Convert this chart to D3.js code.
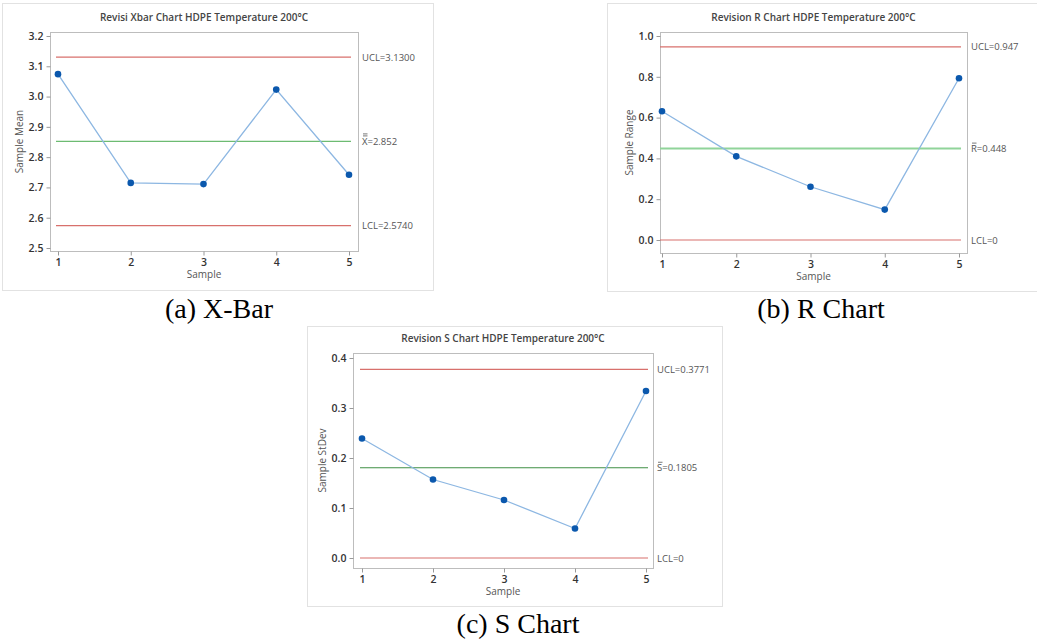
<!DOCTYPE html>
<html>
<head>
<meta charset="utf-8">
<script src="https://cdn.jsdelivr.net/npm/d3@7"></script>
<style>
  body { margin: 0; background: #fff; }
  svg { display: block; }
  .tick text { font-family: 'Open Sans', sans-serif; font-size: 10.5px; font-weight: 600; fill: #333; }
  .tick line { stroke: #999; }
  .domain { display: none; }
</style>
</head>
<body>
<svg id="chart"></svg>
<script>
// Samples (shared x axis)
let samples = [1, 2, 3, 4, 5];

// Xbar chart
let xbarValues = [3.074, 2.715, 2.711, 3.023, 2.742];
let xbarLimits = { ucl: 3.13, cl: 2.852, lcl: 2.574 };
let xbarTicks = [2.5, 2.6, 2.7, 2.8, 2.9, 3.0, 3.1, 3.2];

// R chart
let rValues = [0.631, 0.41, 0.261, 0.149, 0.793];
let rLimits = { ucl: 0.947, cl: 0.448, lcl: 0 };
let rTicks = [0, 0.2, 0.4, 0.6, 0.8, 1.0];

// S chart
let sValues = [0.239, 0.157, 0.116, 0.059, 0.334];
let sLimits = { ucl: 0.3771, cl: 0.1805, lcl: 0 };
let sTicks = [0, 0.1, 0.2, 0.3, 0.4];

let svgWidth = 1037;
let svgHeight = 639;

let svg = d3.select('#chart')
  .attr('width', svgWidth)
  .attr('height', svgHeight);

let red = '#d8706c';
let blueLine = '#8db7e2';
let blueDot = '#0b58ad';
let grey = '#555';

/**
 * Draw one control chart panel
 */
function drawPanel(p) {
  let g = svg.append('g');

  // outer frame of the screenshot
  g.append('rect')
    .attr('x', p.box[0] + 0.5).attr('y', p.box[1] + 0.5)
    .attr('width', p.box[2] - p.box[0]).attr('height', p.box[3] - p.box[1])
    .attr('fill', '#fff').attr('stroke', '#e2e2e2');

  // plot frame
  g.append('rect')
    .attr('x', p.frame[0] + 0.5).attr('y', p.frame[1] + 0.5)
    .attr('width', p.frame[2] - p.frame[0]).attr('height', p.frame[3] - p.frame[1])
    .attr('fill', 'none').attr('stroke', '#bdbdbd');

  let xScale = d3.scaleLinear().domain([1, 5]).range(p.xRange);
  let yScale = d3.scaleLinear().domain(d3.extent(p.ticks)).range(p.yRange);

  let xAxis = d3.axisBottom(xScale).tickValues(samples).tickFormat(d3.format('d')).tickSize(4);
  let yAxis = d3.axisLeft(yScale).tickValues(p.ticks).tickFormat(d3.format('.1f')).tickSize(4);

  g.append('g')
    .attr('transform', 'translate(0,' + (p.frame[3] + 0.5) + ')')
    .call(xAxis);

  g.append('g')
    .attr('transform', 'translate(' + (p.frame[0] + 0.5) + ',0)')
    .call(yAxis);

  // title
  g.append('text')
    .attr('x', (p.frame[0] + p.frame[2]) / 2)
    .attr('y', p.frame[1] - 11)
    .attr('text-anchor', 'middle')
    .attr('font-family', 'Open Sans, sans-serif')
    .attr('font-size', '10px')
    .attr('font-weight', 600)
    .attr('fill', '#444')
    .text(p.title);

  // axis labels
  g.append('text')
    .attr('x', (p.frame[0] + p.frame[2]) / 2)
    .attr('y', p.frame[3] + 27)
    .attr('text-anchor', 'middle')
    .attr('font-family', 'Open Sans, sans-serif')
    .attr('font-size', '10px')
    .attr('fill', grey)
    .text('Sample');

  g.append('text')
    .attr('transform', 'translate(' + (p.frame[0] - 27) + ',' + ((p.frame[1] + p.frame[3]) / 2) + ') rotate(-90)')
    .attr('text-anchor', 'middle')
    .attr('font-family', 'Open Sans, sans-serif')
    .attr('font-size', '10px')
    .attr('fill', grey)
    .text(p.yLabel);

  // control limits
  let x0 = xScale(1) - 2;
  let x1 = xScale(5) + 2;
  let limits = [
    { v: p.limits.ucl, color: red, w: 1.2, label: 'UCL=' + p.fmt(p.limits.ucl) },
    { v: p.limits.cl, color: p.clColor, w: p.clWidth, label: p.clSym + '=' + p.clFmt(p.limits.cl), bars: p.clBars },
    { v: p.limits.lcl, color: red, w: 1.2, label: 'LCL=' + p.lclFmt(p.limits.lcl) }
  ];

  limits.forEach(l => {
    let y = yScale(l.v);
    g.append('line')
      .attr('x1', x0).attr('x2', x1)
      .attr('y1', y).attr('y2', y)
      .attr('stroke', l.color).attr('stroke-width', l.w);

    g.append('text')
      .attr('x', p.frame[2] + 4)
      .attr('y', y + 3.5)
      .attr('font-family', 'Open Sans, sans-serif')
      .attr('font-size', '9.5px')
      .attr('fill', grey)
      .text(l.label);

    // overline(s) above the centre line symbol
    if (l.bars) {
      for (let k = 0; k < l.bars; k++) {
        g.append('line')
          .attr('x1', p.frame[2] + 5).attr('x2', p.frame[2] + 9.5)
          .attr('y1', y - 5.5 - k * 2).attr('y2', y - 5.5 - k * 2)
          .attr('stroke', grey).attr('stroke-width', 0.8);
      }
    }
  });

  // data line and points
  let line = d3.line()
    .x((d, i) => xScale(samples[i]))
    .y(d => yScale(d));

  g.append('path')
    .datum(p.values)
    .attr('d', line)
    .attr('fill', 'none')
    .attr('stroke', blueLine)
    .attr('stroke-width', 1.3);

  g.selectAll('circle')
    .data(p.values)
    .enter()
    .append('circle')
    .attr('cx', (d, i) => xScale(samples[i]))
    .attr('cy', d => yScale(d))
    .attr('r', 3.3)
    .attr('fill', blueDot);

  // caption
  svg.append('text')
    .attr('x', p.caption[0])
    .attr('y', p.caption[1])
    .attr('text-anchor', 'middle')
    .attr('font-family', 'Liberation Serif, Times New Roman, serif')
    .attr('font-size', '28px')
    .attr('fill', '#000')
    .text(p.captionText);
}

drawPanel({
  box: [2, 3, 433, 290],
  frame: [50, 32, 358, 251],
  xRange: [58, 349],
  yRange: [248, 36],
  ticks: xbarTicks,
  values: xbarValues,
  limits: xbarLimits,
  title: 'Revisi Xbar Chart HDPE Temperature 200°C',
  yLabel: 'Sample Mean',
  fmt: d3.format('.4f'),
  lclFmt: d3.format('.4f'),
  clFmt: d3.format('.3f'),
  clSym: 'X',
  clBars: 2,
  clColor: '#6dbb72',
  clWidth: 1.2,
  caption: [219, 318],
  captionText: '(a) X-Bar'
});

drawPanel({
  box: [607, 3, 1040, 291],
  frame: [660, 32, 967, 253],
  xRange: [662, 959],
  yRange: [240, 36],
  ticks: rTicks,
  values: rValues,
  limits: rLimits,
  title: 'Revision R Chart HDPE Temperature 200°C',
  yLabel: 'Sample Range',
  fmt: d3.format('.3f'),
  lclFmt: d3.format('d'),
  clFmt: d3.format('.3f'),
  clSym: 'R',
  clBars: 1,
  clColor: '#90d49a',
  clWidth: 2,
  caption: [821, 318],
  captionText: '(b) R Chart'
});

drawPanel({
  box: [307, 326, 722, 606],
  frame: [353, 353, 653, 568],
  xRange: [362, 646],
  yRange: [558, 358],
  ticks: sTicks,
  values: sValues,
  limits: sLimits,
  title: 'Revision S Chart HDPE Temperature 200°C',
  yLabel: 'Sample StDev',
  fmt: d3.format('.4f'),
  lclFmt: d3.format('d'),
  clFmt: d3.format('.4f'),
  clSym: 'S',
  clBars: 1,
  clColor: '#3f8f45',
  clWidth: 1,
  caption: [518, 633],
  captionText: '(c) S Chart'
});
</script>
</body>
</html>
